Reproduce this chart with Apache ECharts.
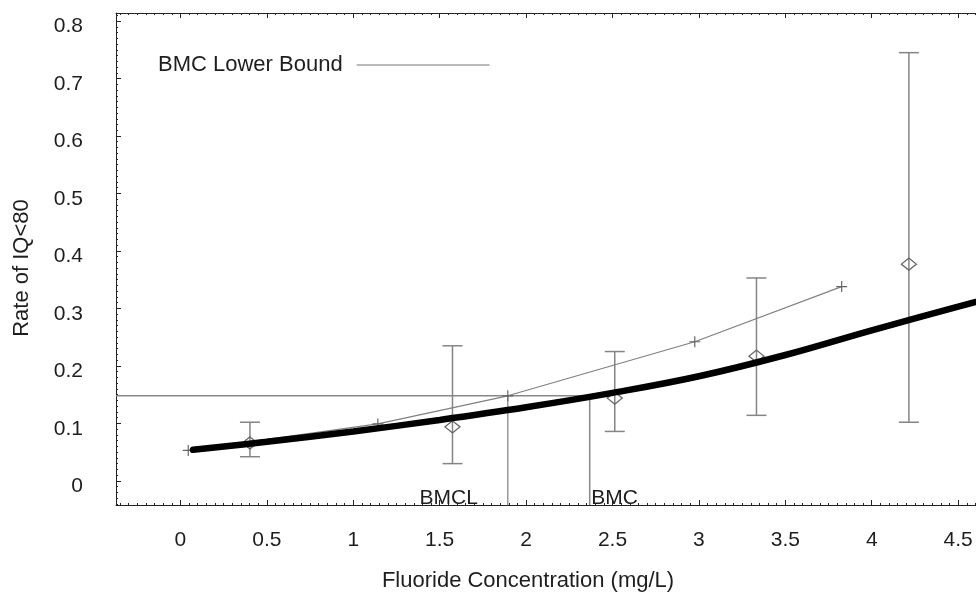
<!DOCTYPE html>
<html>
<head>
<meta charset="utf-8">
<script src="https://cdn.jsdelivr.net/npm/echarts@6/dist/echarts.min.js"></script>
<style>
  html, body { margin: 0; padding: 0; background: #fff; }
  #chart { width: 976px; height: 594px; }
</style>
</head>
<body>
<div id="chart"></div>
<script>
// Tick labels
const xTickLabels = [0, 0.5, 1, 1.5, 2, 2.5, 3, 3.5, 4, 4.5];
const yTickLabels = [0, 0.1, 0.2, 0.3, 0.4, 0.5, 0.6, 0.7, 0.8];

// Fitted dose-response curve (thick line)
const fitX = [0.073, 0.5, 1.0, 1.5, 2.0, 2.5, 3.0, 3.5, 4.0, 4.5, 4.8];
const fitY = [0.054, 0.068, 0.086, 0.106, 0.128, 0.153, 0.182, 0.219, 0.262, 0.303, 0.328];

// BMC lower bound curve
const boundX = [0.045, 1.142, 1.894, 2.976, 3.826];
const boundY = [0.053, 0.099, 0.148, 0.242, 0.338];

// Observed rates with confidence limits
const obsX    = [0.402, 1.574, 2.513, 3.333, 4.215];
const obsRate = [0.066, 0.094, 0.144, 0.217, 0.377];
const obsLow  = [0.042, 0.030, 0.086, 0.114, 0.102];
const obsHigh = [0.102, 0.235, 0.225, 0.353, 0.745];

// Benchmark response level and the resulting concentrations
const BMR_LEVEL = 0.148;
const BMCL = 1.894;
const BMC = 2.368;

// Axis extents
const X_MIN = -0.373, X_MAX = 4.8;
const Y_MIN = -0.042, Y_MAX = 0.814;

const FONT = '"Liberation Sans", Arial, sans-serif';
const FRAME = '#222';
const TEXT = '#1e1e1e';

function steps(from, to, step, digits) {
  const out = [];
  const n = Math.round((to - from) / step);
  for (let i = 0; i <= n; i++) out.push(+(from + i * step).toFixed(digits));
  return out;
}
const xMinorTicks = steps(-0.35, 4.8, 0.05, 2);
const yMinorTicks = steps(-0.04, 0.81, 0.01, 2);

const zip = (a, b) => a.map((v, i) => [v, b[i]]);

function xAxisDef(position, custom, len, showLine, showLabel) {
  return {
    type: 'value', position, min: X_MIN, max: X_MAX,
    axisLine: { show: showLine, onZero: false, lineStyle: { color: FRAME, width: 1 } },
    axisTick: { show: true, inside: true, length: len, customValues: custom,
                lineStyle: { color: FRAME, width: 1 } },
    axisLabel: showLabel ? {
      show: true, customValues: xTickLabels, margin: 25,
      fontSize: 21, fontFamily: FONT, color: TEXT
    } : { show: false },
    splitLine: { show: false }
  };
}
function yAxisDef(position, custom, len, showLine, showLabel) {
  return {
    type: 'value', position, min: Y_MIN, max: Y_MAX,
    axisLine: { show: showLine, onZero: false, lineStyle: { color: FRAME, width: 1 } },
    axisTick: { show: true, inside: true, length: len, customValues: custom,
                lineStyle: { color: FRAME, width: 1 } },
    axisLabel: showLabel ? {
      show: true, customValues: yTickLabels, margin: 33,
      formatter: '{v|{value}}',
      rich: { v: { padding: [11, 0, 0, 0], fontSize: 21, fontFamily: FONT, color: TEXT } },
      fontSize: 21, fontFamily: FONT, color: TEXT
    } : { show: false },
    splitLine: { show: false }
  };
}

const chart = echarts.init(document.getElementById('chart'), null, { renderer: 'canvas' });

const option = {
  animation: false,
  backgroundColor: '#fff',
  grid: { left: 116, top: 13, bottom: 89, right: -34, containLabel: false, outerBoundsMode: 'none' },
  xAxis: [
    xAxisDef('bottom', xTickLabels, 5, true, true),
    xAxisDef('bottom', xMinorTicks, 2, false, false),
    xAxisDef('top', xTickLabels, 5, true, false),
    xAxisDef('top', xMinorTicks, 2, false, false)
  ],
  yAxis: [
    yAxisDef('left', yTickLabels, 5, true, true),
    yAxisDef('left', yMinorTicks, 2, false, false),
    yAxisDef('right', yTickLabels, 5, true, false),
    yAxisDef('right', yMinorTicks, 2, false, false)
  ],
  legend: {
    data: [{ name: 'BMC Lower Bound', icon: 'rect', itemStyle: { color: '#777', borderWidth: 0 } }],
    left: 158, top: 54, padding: 0,
    align: 'right', itemWidth: 133, itemHeight: 1,
    selectedMode: false,
    textStyle: { fontSize: 22, fontFamily: FONT, color: TEXT, padding: [0, 9, 0, 0] }
  },
  graphic: [
    {
      type: 'text', x: 22, y: 268, rotation: Math.PI / 2,
      style: { text: 'Rate of IQ<80', fontSize: 22, fontFamily: FONT, fill: TEXT,
               align: 'center', verticalAlign: 'middle' }
    },
    {
      type: 'text', x: 528, y: 581,
      style: { text: 'Fluoride Concentration (mg/L)', fontSize: 22, fontFamily: FONT, fill: TEXT,
               align: 'center', verticalAlign: 'middle' }
    }
  ],
  series: [
    {
      name: 'BMR level', type: 'line', symbol: 'none', silent: true, z: 1,
      data: [[X_MIN, BMR_LEVEL], [BMC, BMR_LEVEL]],
      lineStyle: { color: '#888', width: 1.5 }
    },
    {
      name: 'BMCL drop', type: 'line', symbol: 'none', silent: true, z: 1,
      data: [[BMCL, BMR_LEVEL], [BMCL, Y_MIN]],
      lineStyle: { color: '#999', width: 1.5 }
    },
    {
      name: 'BMC drop', type: 'line', symbol: 'none', silent: true, z: 1,
      data: [[BMC, BMR_LEVEL], [BMC, Y_MIN]],
      lineStyle: { color: '#888', width: 1.5 }
    },
    {
      name: 'Confidence limits', type: 'custom', z: 2,
      data: obsX.map((x, i) => [x, obsLow[i], obsHigh[i]]),
      renderItem: function (params, api) {
        const x = api.value(0);
        const lo = api.coord([x, api.value(1)]);
        const hi = api.coord([x, api.value(2)]);
        const half = 10;
        const style = { stroke: '#858585', lineWidth: 1.5, fill: null };
        return {
          type: 'group',
          children: [
            { type: 'line', shape: { x1: lo[0], y1: lo[1], x2: hi[0], y2: hi[1] }, style },
            { type: 'line', shape: { x1: hi[0] - half, y1: hi[1], x2: hi[0] + half, y2: hi[1] }, style },
            { type: 'line', shape: { x1: lo[0] - half, y1: lo[1], x2: lo[0] + half, y2: lo[1] }, style }
          ]
        };
      }
    },
    {
      name: 'Observed rate', type: 'scatter', z: 3,
      data: zip(obsX, obsRate),
      symbol: 'diamond', symbolSize: [15, 12],
      itemStyle: { color: 'rgba(0,0,0,0)', borderColor: '#666', borderWidth: 1.3, opacity: 1 }
    },
    {
      name: 'BMC Lower Bound', type: 'line', z: 4,
      data: zip(boundX, boundY),
      lineStyle: { color: '#808080', width: 1.2 },
      symbol: 'path://M0,5L10,5M5,0L5,10', symbolSize: 11,
      itemStyle: { color: 'rgba(0,0,0,0)', borderColor: '#666', borderWidth: 1.2 }
    },
    {
      name: 'Fitted model', type: 'line', z: 6, smooth: 0.4,
      data: zip(fitX, fitY),
      symbol: 'none',
      lineStyle: { color: '#000', width: 6.5, cap: 'round' }
    },
    {
      name: 'Marker labels', type: 'scatter', z: 7, silent: true,
      symbol: 'circle', symbolSize: 0,
      itemStyle: { opacity: 1 },
      data: [
        { name: 'BMCL', value: [BMCL, Y_MIN], label: { offset: [-59, -7] } },
        { name: 'BMC', value: [BMC, Y_MIN], label: { offset: [25, -7] } }
      ],
      label: {
        show: true, position: 'inside', formatter: '{b}', opacity: 1,
        fontSize: 21, fontFamily: FONT, color: TEXT
      }
    }
  ]
};

chart.setOption(option);
</script>
</body>
</html>
